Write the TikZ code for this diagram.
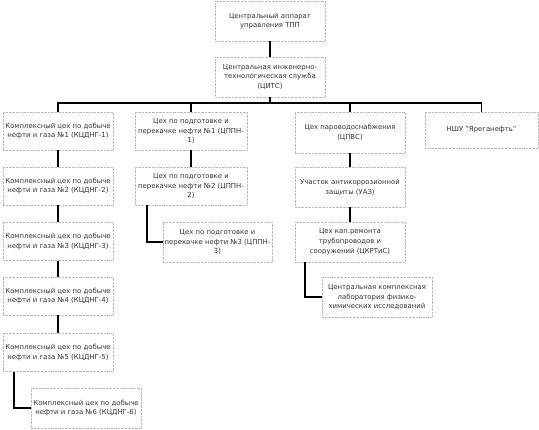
\documentclass[tikz,border=0pt]{standalone}
\usepackage{fontspec}
\setmainfont{DejaVu Sans}
\usepackage{tikz}
\usetikzlibrary{positioning, calc}

\begin{document}
\begin{tikzpicture}[
    x=1pt, y=-1pt,
    every node/.style={font=\fontsize{6.9}{9.8}\selectfont, text=black!80},
    unit/.style={draw=gray!55, densely dotted, fill=white, align=center,
        minimum width=110pt, minimum height=38pt, inner sep=1pt},
    link/.style={line width=1.6pt, black}
]
\useasboundingbox (0,0) rectangle (539,430);

% Management boxes
\node[unit, minimum height=40pt] (top) at (270,21) {Центральный аппарат\\управления ТПП};
\node[unit, minimum height=40pt] (cits) at (270,77) {Центральная инженерно-\\технологическая служба\\(ЦИТС)};
\coordinate (bus) at (270,103);

% Oil and gas production shops
\node[unit] (k1) at (58,131) {Комплексный цех по добыче\\нефти и газа №1 (КЦДНГ-1)};
\node[unit] (k2) at (58,186) {Комплексный цех по добыче\\нефти и газа №2 (КЦДНГ-2)};
\node[unit] (k3) at (58,241.5) {Комплексный цех по добыче\\нефти и газа №3 (КЦДНГ-3)};
\node[unit] (k4) at (58,296) {Комплексный цех по добыче\\нефти и газа №4 (КЦДНГ-4)};
\node[unit] (k5) at (58,352.5) {Комплексный цех по добыче\\нефти и газа №5 (КЦДНГ-5)};
\node[unit, minimum height=40pt] (k6) at (86,408) {Комплексный цех по добыче\\нефти и газа №6 (КЦДНГ-6)};

% Oil treatment and pumping shops
\node[unit, minimum width=112pt] (p1) at (191,131) {Цех по подготовке и\\перекачке нефти №1 (ЦППН-\\1)};
\node[unit, minimum width=112pt] (p2) at (191,186) {Цех по подготовке и\\перекачке нефти №2 (ЦППН-\\2)};
\node[unit, minimum width=109pt, minimum height=40pt] (p3) at (217.5,242) {Цех по подготовке и\\перекачке нефти №3 (ЦППН-\\3)};

% Steam and water supply branch
\node[unit, minimum height=41pt] (s1) at (350,132.5) {Цех пароводоснабжения\\(ЦПВС)};
\node[unit, minimum height=40pt] (s2) at (350,187) {Участок антикоррозионной\\защиты (УАЗ)};
\node[unit, minimum height=40pt] (s3) at (350,242) {Цех кап.ремонта\\трубопроводов и\\сооружений (ЦКРТиС)};
\node[unit, minimum height=40pt] (s4) at (377,297) {Центральная комплексная\\лаборатория физико-\\химических исследований};

\node[unit, minimum width=113pt, minimum height=36pt] (nshu) at (481.5,130) {НШУ "Яреганефть"};

% Draw the connectors
\draw[link] (top) -- (cits);
\draw[link] (cits) -- (bus);
\draw[link] (bus) -| (k1.north);
\draw[link] (bus) -| (p1.north);
\draw[link] (bus) -| (s1.north);
\draw[link] (bus) -| (nshu.north);

\draw[link] (k1) -- (k2);
\draw[link] (k2) -- (k3);
\draw[link] (k3) -- (k4);
\draw[link] (k4) -- (k5);
\draw[link] ([xshift=11pt]k5.south west) |- (k6.west);

\draw[link] (p1) -- (p2);
\draw[link] ([xshift=12pt]p2.south west) |- (p3.west);

\draw[link] (s1) -- (s2);
\draw[link] (s2) -- (s3);
\draw[link] ([xshift=10pt]s3.south west) |- (s4.west);

\end{tikzpicture}
\end{document}
